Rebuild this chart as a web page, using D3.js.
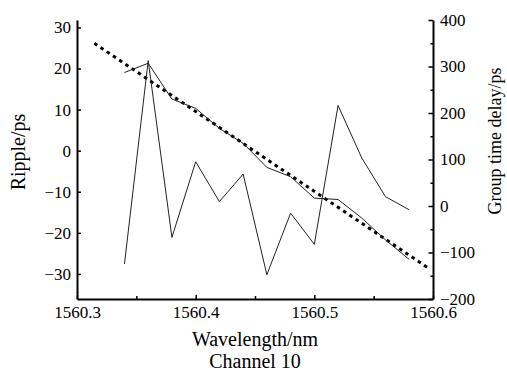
<!DOCTYPE html>
<html>
  <head>
    <meta http-equiv="Content-Type" content="text/html;charset=utf-8"/>
    <script src="https://d3js.org/d3.v7.min.js"></script>
    <style>
      body { margin: 0; background: #fff; }
    </style>
  </head>
  <body>
    <script type="text/javascript">

// wavelength samples (nm)
var wavelength = [1560.34, 1560.36, 1560.38, 1560.40, 1560.42, 1560.44, 1560.46,
                  1560.48, 1560.50, 1560.52, 1560.54, 1560.56, 1560.58];
// ripple (ps), left axis
var ripple = [-27.6, 21.9, -21.1, -2.7, -12.4, -5.7, -30.2, -15.2, -22.8, 11.0, -1.8, -11.2, -14.4];
// measured group delay (ps), right axis
var groupDelay = [287, 307, 230, 210, 167, 135, 83, 63, 17, 14, -26, -73, -115];
// linear fit of group delay, end points
var fitWavelength = [1560.3146, 1560.5975];
var fitDelay = [350, -136];

var xTicks = [1560.3, 1560.4, 1560.5, 1560.6];
var xMinor = [1560.35, 1560.45, 1560.55];
var leftTicks = [-30, -20, -10, 0, 10, 20, 30];
var rightTicks = [-200, -100, 0, 100, 200, 300, 400];
var rightMinor = [-150, -50, 50, 150, 250, 350];

var font = "'Liberation Serif', 'Times New Roman', serif";

var w = 507, h = 373;
var svg = d3.select("body").append("svg")
  .attr("width", w)
  .attr("height", h);

var x = d3.scaleLinear().domain([1560.3, 1560.6]).range([77, 433]);
var yL = d3.scaleLinear().domain([-36.1, 31.8]).range([299, 20]);
var yR = d3.scaleLinear().domain([-200, 400]).range([299, 20]);

function styleAxis(g) {
  g.attr("font-family", font).attr("font-size", 17);
  g.select(".domain").attr("stroke", "#000").attr("stroke-width", 2);
  g.selectAll(".tick line").attr("stroke", "#000").attr("stroke-width", 1.5);
  g.selectAll("text").attr("fill", "#000");
}

// minor ticks first so major axes sit on top
svg.append("g")
  .attr("transform", "translate(0,299)")
  .call(d3.axisBottom(x).tickValues(xMinor).tickSize(-3).tickFormat(""))
  .call(function(g) { g.select(".domain").remove(); g.selectAll("line").attr("stroke", "#000").attr("stroke-width", 1.5); });
svg.append("g")
  .attr("transform", "translate(433,0)")
  .call(d3.axisRight(yR).tickValues(rightMinor).tickSize(-2.5).tickFormat(""))
  .call(function(g) { g.select(".domain").remove(); g.selectAll("line").attr("stroke", "#000").attr("stroke-width", 1.5); });

svg.append("g")
  .attr("transform", "translate(0,299)")
  .call(d3.axisBottom(x).tickValues(xTicks).tickSize(-4).tickSizeOuter(0).tickPadding(7).tickFormat(d3.format(".1f")))
  .call(styleAxis);

svg.append("g")
  .attr("transform", "translate(77,0)")
  .call(d3.axisLeft(yL).tickValues(leftTicks).tickSize(-4).tickSizeOuter(0).tickPadding(6))
  .call(styleAxis);

svg.append("g")
  .attr("transform", "translate(433,0)")
  .call(d3.axisRight(yR).tickValues(rightTicks).tickSize(-4.5).tickSizeOuter(0).tickPadding(7))
  .call(styleAxis);

// data lines
var rippleLine = d3.line().x(function(d, i) { return x(wavelength[i]); }).y(function(d) { return yL(d); });
var delayLine = d3.line().x(function(d, i) { return x(wavelength[i]); }).y(function(d) { return yR(d); });
var fitLine = d3.line().x(function(d, i) { return x(fitWavelength[i]); }).y(function(d) { return yR(d); });

svg.append("path")
  .datum(fitDelay)
  .attr("d", fitLine)
  .attr("fill", "none")
  .attr("stroke", "#000")
  .attr("stroke-width", 3)
  .attr("stroke-dasharray", "3.5,4");

svg.append("path")
  .datum(groupDelay)
  .attr("d", delayLine)
  .attr("fill", "none")
  .attr("stroke", "#222")
  .attr("stroke-width", 1);

svg.append("path")
  .datum(ripple)
  .attr("d", rippleLine)
  .attr("fill", "none")
  .attr("stroke", "#222")
  .attr("stroke-width", 1);

// titles
function title(t, tr, size) {
  return svg.append("text")
    .attr("transform", tr)
    .attr("text-anchor", "middle")
    .attr("font-family", font)
    .attr("font-size", size)
    .attr("fill", "#000")
    .text(t);
}
title("Ripple/ps", "translate(25,152)rotate(-90)", 20);
title("Group time delay/ps", "translate(501,141)rotate(-90)", 18);
title("Wavelength/nm", "translate(255,346)", 20);
title("Channel 10", "translate(255,368)", 20);
    </script>
  </body>
</html>
